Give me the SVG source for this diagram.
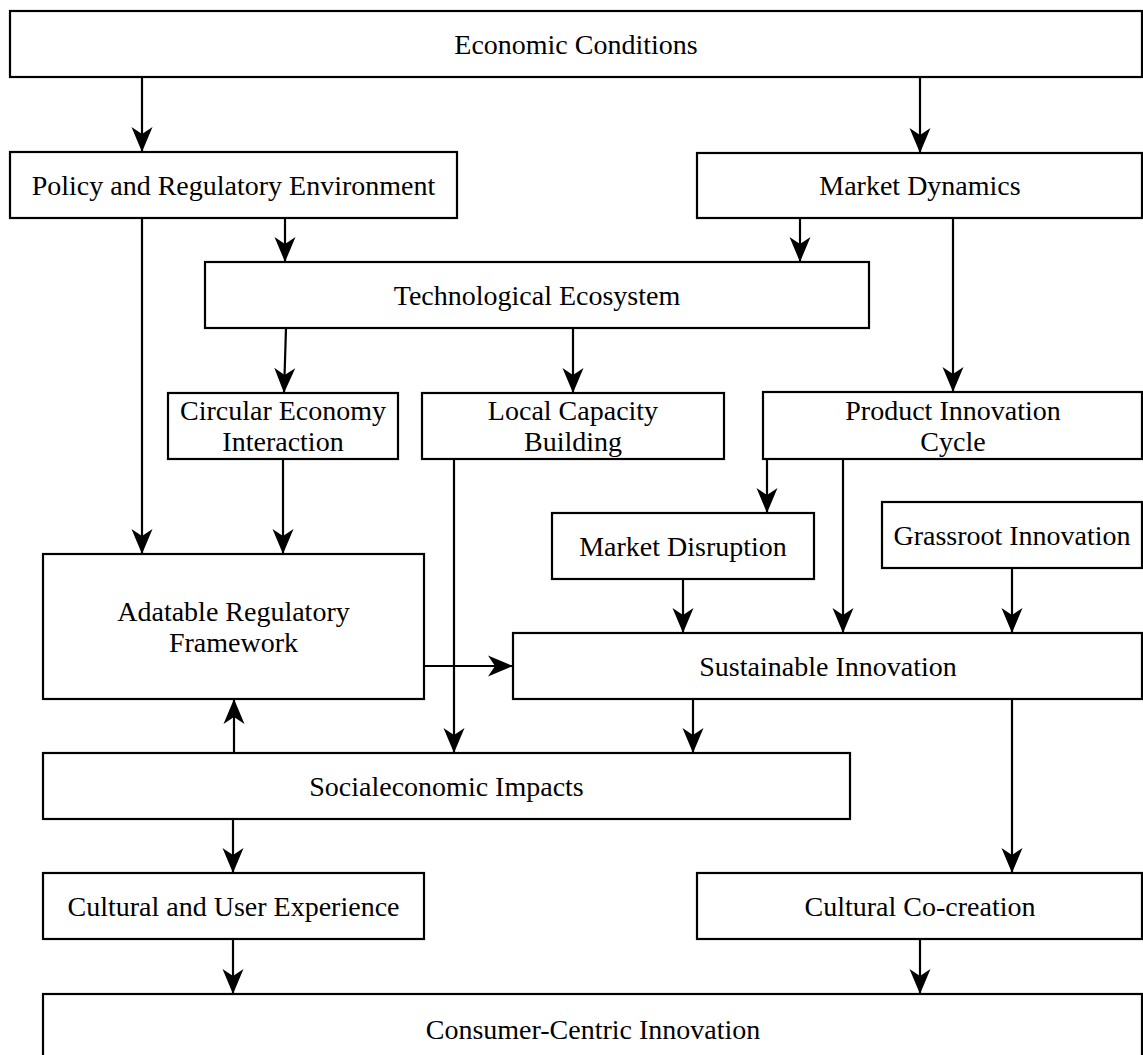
<svg xmlns="http://www.w3.org/2000/svg" width="1143" height="1055" viewBox="0 0 1143 1055">
<defs>
<style>
.box{fill:#fff;stroke:#000;stroke-width:2.2}
.t{font-family:"Liberation Serif","Times New Roman",serif;font-size:28px;fill:#000;text-anchor:middle}
.c{stroke:#000;stroke-width:2.2;fill:none;marker-end:url(#ah)}
</style>
<marker id="ah" markerUnits="userSpaceOnUse" markerWidth="30" markerHeight="26" viewBox="-26 -13 30 26" refX="0" refY="0" orient="auto">
<path d="M0,0 L-25,-10.5 L-18,0 L-25,10.5 Z" fill="#000"/>
</marker>
</defs>
<rect width="1143" height="1055" fill="#fff"/>
<g id="economic"><rect class="box" x="10" y="11" width="1132" height="66"/><text class="t" x="576" y="54">Economic Conditions</text></g>
<g id="policy"><rect class="box" x="10" y="152" width="447" height="66"/><text class="t" x="233.5" y="195">Policy and Regulatory Environment</text></g>
<g id="market"><rect class="box" x="697" y="153" width="445" height="65"/><text class="t" x="920" y="195">Market Dynamics</text></g>
<g id="tech"><rect class="box" x="205" y="262" width="664" height="66"/><text class="t" x="537" y="305">Technological Ecosystem</text></g>
<g id="circular"><rect class="box" x="168" y="393" width="230" height="66"/><text class="t" x="283" y="420">Circular Economy</text><text class="t" x="283" y="451">Interaction</text></g>
<g id="local"><rect class="box" x="422" y="393" width="302" height="66"/><text class="t" x="573" y="420">Local Capacity</text><text class="t" x="573" y="451">Building</text></g>
<g id="product"><rect class="box" x="763" y="392" width="379" height="67"/><text class="t" x="953" y="420">Product Innovation</text><text class="t" x="953" y="451">Cycle</text></g>
<g id="disruption"><rect class="box" x="552" y="513" width="262" height="66"/><text class="t" x="683" y="556">Market Disruption</text></g>
<g id="grassroot"><rect class="box" x="882" y="502" width="260" height="66"/><text class="t" x="1012" y="545">Grassroot Innovation</text></g>
<g id="adaptable"><rect class="box" x="43" y="554" width="381" height="145"/><text class="t" x="233.5" y="621">Adatable Regulatory</text><text class="t" x="233.5" y="652">Framework</text></g>
<g id="sustainable"><rect class="box" x="513" y="633" width="629" height="66"/><text class="t" x="828" y="676">Sustainable Innovation</text></g>
<g id="socio"><rect class="box" x="43" y="753" width="807" height="66"/><text class="t" x="446.5" y="796">Socialeconomic Impacts</text></g>
<g id="cux"><rect class="box" x="43" y="873" width="381" height="66"/><text class="t" x="233.5" y="916">Cultural and User Experience</text></g>
<g id="cocreation"><rect class="box" x="697" y="873" width="445" height="66"/><text class="t" x="920" y="916">Cultural Co-creation</text></g>
<g id="consumer"><rect class="box" x="43" y="994" width="1099" height="80"/><text class="t" x="593" y="1039">Consumer-Centric Innovation</text></g>
<g id="connectors">
<line class="c" x1="142" y1="77" x2="142" y2="152"/>
<line class="c" x1="920" y1="77" x2="920" y2="153"/>
<line class="c" x1="285" y1="218" x2="285" y2="262"/>
<line class="c" x1="800" y1="218" x2="800" y2="262"/>
<line class="c" x1="142" y1="218" x2="142" y2="554"/>
<line class="c" x1="286" y1="328" x2="284" y2="393"/>
<line class="c" x1="573" y1="328" x2="573" y2="393"/>
<line class="c" x1="953" y1="218" x2="953" y2="392"/>
<line class="c" x1="283" y1="459" x2="283" y2="554"/>
<line class="c" x1="454" y1="459" x2="454" y2="753"/>
<line class="c" x1="767" y1="459" x2="767" y2="513"/>
<line class="c" x1="843" y1="459" x2="843" y2="633"/>
<line class="c" x1="683" y1="579" x2="683" y2="633"/>
<line class="c" x1="1012" y1="568" x2="1012" y2="633"/>
<line class="c" x1="424" y1="666" x2="513" y2="666"/>
<line class="c" x1="693" y1="699" x2="693" y2="753"/>
<line class="c" x1="234" y1="753" x2="234" y2="699"/>
<line class="c" x1="1012" y1="699" x2="1012" y2="873"/>
<line class="c" x1="233" y1="819" x2="233" y2="873"/>
<line class="c" x1="233" y1="939" x2="233" y2="994"/>
<line class="c" x1="920" y1="939" x2="920" y2="994"/>
</g>
</svg>
